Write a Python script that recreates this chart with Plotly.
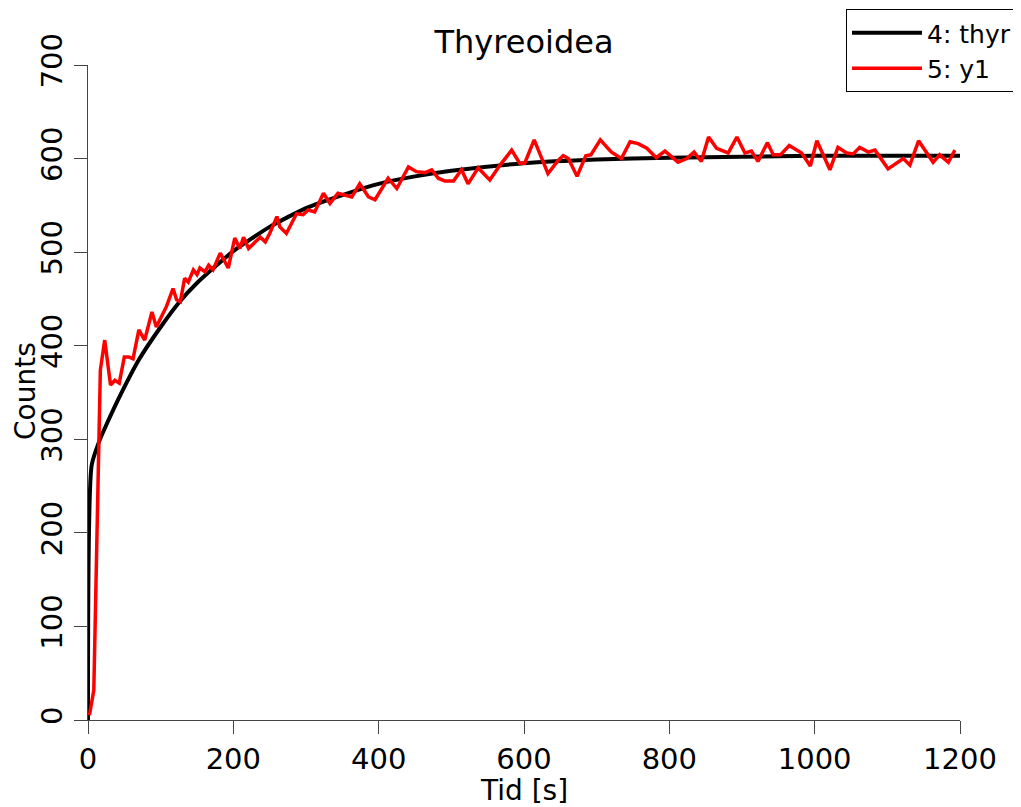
import plotly.graph_objects as go

# Fitted curve "4: thyr"
thyr_t = [0, 5, 15, 25, 45, 70, 100, 125, 150, 200, 250, 300, 350, 400, 450, 500, 600, 700, 800, 900, 1000, 1100, 1200]
thyr_y = [0, 272, 297, 315, 348, 385, 420, 446, 467, 501, 527, 547, 561, 573, 581, 587, 595, 599, 601, 602, 603, 603, 603]

y1_t = [2, 8, 17, 23, 31, 37, 43, 50, 56, 62, 70, 78, 88, 94, 101, 108, 117, 122, 127, 133, 138, 145, 150, 154, 161,
        166, 172, 182, 193, 202, 209, 214, 221, 230, 237, 244, 250, 260, 264, 273, 287, 296, 303, 312, 324, 333,
        344, 363, 374, 386, 395, 413, 425, 441, 452, 464, 473, 482, 491, 503, 514, 523, 537, 553, 567, 583, 594,
        601, 614, 633, 647, 654, 661, 673, 685, 692, 705, 720, 734, 746, 757, 769, 782, 794, 812, 824, 834, 844,
        854, 865, 881, 893, 904, 913, 922, 935, 943, 953, 965, 982, 994, 1003, 1021, 1032, 1044, 1053, 1062, 1074,
        1083, 1101, 1122, 1131, 1143, 1163, 1172, 1184, 1193]
y1_y = [5, 32, 374, 406, 358, 363, 360, 388, 388, 386, 417, 406, 436, 420, 431, 442, 461, 449, 447, 472, 468, 481,
        476, 483, 479, 486, 481, 499, 483, 515, 504, 516, 504, 511, 516, 511, 520, 538, 527, 520, 541, 540, 545,
        543, 563, 552, 563, 559, 573, 559, 556, 579, 568, 591, 586, 585, 588, 579, 576, 576, 588, 573, 590, 577,
        593, 609, 595, 595, 620, 584, 598, 603, 600, 581, 603, 604, 620, 607, 600, 618, 616, 611, 601, 608, 596,
        600, 607, 597, 623, 611, 606, 623, 606, 608, 597, 617, 604, 604, 614, 606, 592, 619, 588, 612, 606, 605,
        612, 607, 609, 589, 600, 593, 619, 596, 604, 596, 609]

x_ticks = [0, 200, 400, 600, 800, 1000, 1200]
y_ticks = [0, 100, 200, 300, 400, 500, 600, 700]

FONT = "DejaVu Sans"

# page body adds an 8px offset, so the figure is laid out in shifted coordinates
W, H = 1013, 799
L, T, R, B = 80, 57, 61, 87
PW, PH = W - L - R, H - T - B

fig = go.Figure()
fig.add_trace(go.Scatter(x=thyr_t, y=thyr_y, mode="lines", name="4: thyr",
                         line=dict(color="black", width=4, shape="spline", smoothing=0.6)))
fig.add_trace(go.Scatter(x=y1_t, y=y1_y, mode="lines", name="5: y1",
                         line=dict(color="red", width=3.5)))

axis_common = dict(showgrid=False, zeroline=False, showline=True, linecolor="#444444", linewidth=1.2,
                   ticks="outside", ticklen=13, tickcolor="#444444", tickwidth=1.2, automargin=False,
                   tickfont=dict(family=FONT, size=29, color="black"), mirror=False)

fig.update_layout(
    width=W, height=H,
    margin=dict(l=L, r=R, t=T, b=B, autoexpand=False),
    paper_bgcolor="white", plot_bgcolor="white",
    font=dict(family=FONT, color="black"),
    title=dict(text="Thyreoidea", x=(L + PW / 2) / W, xanchor="center", y=1 - 34 / H, yanchor="middle",
               font=dict(family=FONT, size=32, color="black")),
    xaxis=dict(range=[0, 1200], tickvals=x_ticks, ticktext=[str(v) for v in x_ticks], **axis_common),
    yaxis=dict(range=[0, 700], tickvals=y_ticks, ticktext=[str(v) for v in y_ticks], tickangle=-90,
               **axis_common),
    legend=dict(x=(1009 - L) / PW, xanchor="right", y=1 + (T - 1) / PH, yanchor="top",
                bgcolor="white", bordercolor="black", borderwidth=1,
                font=dict(family=FONT, size=25, color="black"), itemwidth=70,
                tracegroupgap=0),
    showlegend=True,
    annotations=[
        dict(text="Tid [s]", xref="paper", yref="paper", x=0.5, y=(H - B - 782) / PH,
             xanchor="center", yanchor="middle", showarrow=False, font=dict(family=FONT, size=28)),
        dict(text="Counts", xref="paper", yref="paper", x=(17 - L) / PW, y=(H - B - 383) / PH,
             xanchor="center", yanchor="middle", textangle=-90, showarrow=False,
             font=dict(family=FONT, size=28)),
    ],
)

fig.write_html("out.html")
